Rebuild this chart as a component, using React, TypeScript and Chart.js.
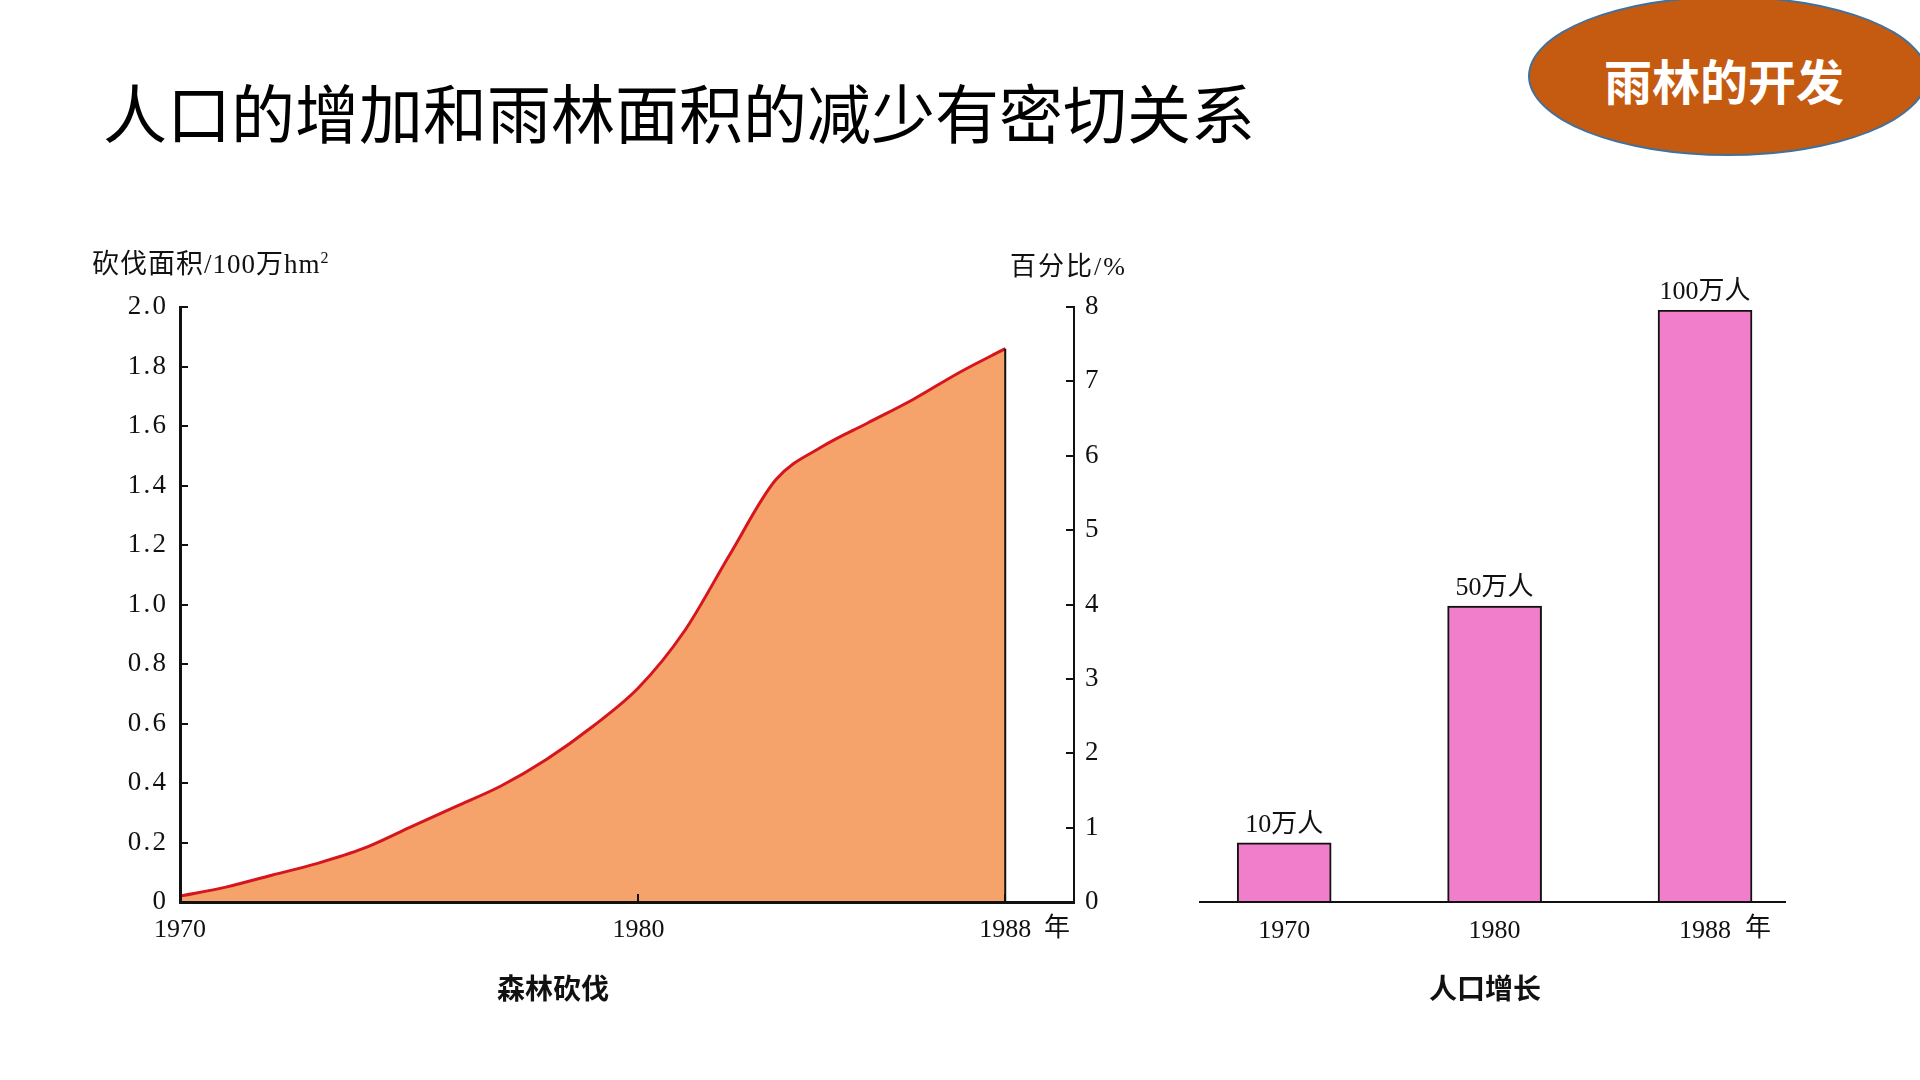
import React, { useEffect, useRef } from "react";
import { Chart, registerables } from "chart.js";

Chart.register(...registerables);

// Forest clearing (million hm²) by year
const clearingYears = [1970, 1971, 1972, 1973, 1974, 1975, 1976, 1977, 1978, 1979, 1980, 1981, 1982, 1983, 1984, 1985, 1986, 1987, 1988];
const clearingArea = [0.02, 0.05, 0.09, 0.13, 0.18, 0.25, 0.32, 0.39, 0.48, 0.59, 0.72, 0.91, 1.17, 1.42, 1.53, 1.61, 1.69, 1.78, 1.86];
const clearingXTicks = [1970, 1980, 1988];
const clearingLeftMax = 2.0;
const clearingRightMax = 8;

// Population (10k people)
const popCategories = ["1970", "1980", "1988"];
const popValues = [10, 50, 100];

const serif = '"Liberation Serif", "DejaVu Serif", serif';
const cjkSerif = '"Liberation Serif", "Noto Sans CJK SC", serif';
const cjkSans = '"Noto Sans CJK SC", "Noto Sans", sans-serif';

const ORANGE = "#F5A36A";
const RED = "#D5161F";
const PINK = "#F07ECB";

function ForestChart() {
  const ref = useRef<HTMLCanvasElement | null>(null);
  useEffect(() => {
    if (!ref.current) return;
    const lastIdx = clearingYears.length - 1;
    const chart = new Chart(ref.current, {
      type: "line",
      data: {
        datasets: [
          {
            label: "edge",
            data: [
              { x: clearingYears[lastIdx], y: 0 },
              { x: clearingYears[lastIdx], y: clearingArea[lastIdx] },
            ],
            borderColor: "#111",
            borderWidth: 2,
            pointRadius: 0,
            fill: false,
            order: 0,
            yAxisID: "y",
          },
          {
            label: "砍伐面积",
            data: clearingYears.map((yr, i) => ({ x: yr, y: clearingArea[i] })),
            borderColor: RED,
            borderWidth: 3,
            backgroundColor: ORANGE,
            fill: "origin",
            pointRadius: 0,
            cubicInterpolationMode: "monotone",
            order: 1,
            yAxisID: "y",
          },
        ],
      },
      options: {
        animation: false,
        responsive: false,
        events: [],
        layout: { padding: { left: 60, right: 26, top: 77, bottom: 78 } },
        plugins: { legend: { display: false }, tooltip: { enabled: false } },
        scales: {
          x: {
            type: "linear",
            min: 1970,
            max: 1989.5,
            afterBuildTicks: (s: any) => {
              s.ticks = clearingXTicks.map((v) => ({ value: v }));
            },
            afterFit: (s: any) => {
              s.height = 50;
            },
            grid: { drawOnChartArea: false, tickLength: -8, color: "#111", lineWidth: 2, z: 1 },
            border: { color: "#111", width: 3, z: 1 },
            ticks: {
              color: "#111",
              font: { family: serif, size: 26 },
              padding: 21,
              maxRotation: 0,
              autoSkip: false,
              callback: (v: any) => String(v),
            },
          },
          y: {
            position: "left",
            min: 0,
            max: clearingLeftMax,
            afterFit: (s: any) => {
              s.width = 60;
            },
            grid: { drawOnChartArea: false, tickLength: -8, color: "#111", lineWidth: 2, z: 1 },
            border: { color: "#111", width: 3, z: 1 },
            ticks: {
              stepSize: 0.2,
              color: "#111",
              font: { family: serif, size: 27 },
              padding: 22,
              callback: (v: any) => (v === 0 ? "0" : Number(v).toFixed(1).split("").join("\u200A")),
            },
          },
          y1: {
            position: "right",
            min: 0,
            max: clearingRightMax,
            afterFit: (s: any) => {
              s.width = 60;
            },
            grid: { drawOnChartArea: false, tickLength: -8, color: "#111", lineWidth: 2, z: 1 },
            border: { color: "#111", width: 2, z: 1 },
            ticks: {
              stepSize: 1,
              color: "#111",
              font: { family: serif, size: 27 },
              padding: 19,
            },
          },
        },
      } as any,
    });
    return () => chart.destroy();
  }, []);
  return (
    <canvas
      ref={ref}
      width={1100}
      height={800}
      style={{ position: "absolute", left: 60, top: 230, width: 1100, height: 800 }}
    />
  );
}

const barValueLabels = {
  id: "barValueLabels",
  afterDatasetsDraw(chart: any) {
    const meta = chart.getDatasetMeta(0);
    const ctx = chart.ctx;
    ctx.save();
    ctx.fillStyle = "#111";
    ctx.font = `26px ${cjkSerif}`;
    ctx.textAlign = "center";
    ctx.textBaseline = "bottom";
    meta.data.forEach((bar: any, i: number) => {
      ctx.fillText(`${popValues[i]}万人`, bar.x, bar.y - 5);
    });
    ctx.restore();
  },
};

function PopulationChart() {
  const ref = useRef<HTMLCanvasElement | null>(null);
  useEffect(() => {
    if (!ref.current) return;
    const chart = new Chart(ref.current, {
      type: "bar",
      data: {
        datasets: [
          {
            label: "人口",
            data: popValues.map((v, i) => ({ x: i, y: v })),
            backgroundColor: PINK,
            borderColor: "#111",
            borderWidth: 2,
            borderSkipped: "bottom",
            barThickness: 94,
          },
        ],
      },
      options: {
        animation: false,
        responsive: false,
        events: [],
        layout: { padding: { left: 40, right: 95, top: 80, bottom: 78 } },
        plugins: { legend: { display: false }, tooltip: { enabled: false } },
        scales: {
          x: {
            type: "linear",
            offset: false,
            min: -0.4,
            max: 2.38,
            afterBuildTicks: (s: any) => {
              s.ticks = popCategories.map((_, i) => ({ value: i }));
            },
            afterFit: (s: any) => {
              s.height = 50;
            },
            grid: { display: false },
            border: { color: "#111", width: 2, z: 1 },
            ticks: {
              color: "#111",
              font: { family: serif, size: 26 },
              padding: 6,
              maxRotation: 0,
              autoSkip: false,
              callback: (v: any) => popCategories[v] ?? "",
            },
          },
          y: {
            display: false,
            min: 0,
            max: 100,
          },
        },
      } as any,
      plugins: [barValueLabels],
    });
    return () => chart.destroy();
  }, []);
  return (
    <canvas
      ref={ref}
      width={720}
      height={800}
      style={{ position: "absolute", left: 1160, top: 230, width: 720, height: 800 }}
    />
  );
}

const txt = (extra: React.CSSProperties): React.CSSProperties => ({
  position: "absolute",
  whiteSpace: "nowrap",
  color: "#111",
  lineHeight: 1,
  ...extra,
});

export default function App() {
  useEffect(() => {
    document.body.style.margin = "0";
  }, []);
  return (
    <div
      style={{
        position: "fixed",
        left: 0,
        top: 0,
        width: 1920,
        height: 1080,
        background: "#ffffff",
        overflow: "hidden",
      }}
    >
      <div
        style={txt({
          left: 103,
          top: 78,
          fontFamily: cjkSans,
          fontSize: 64,
          color: "#000",
        })}
      >
        人口的增加和雨林面积的减少有密切关系
      </div>

      <div
        style={{
          position: "absolute",
          left: 1528,
          top: -4,
          width: 400,
          height: 160,
          borderRadius: "50%",
          background: "#C55A11",
          border: "2px solid #41719C",
          boxSizing: "border-box",
        }}
      />
      <div
        style={txt({
          left: 1604,
          top: 55,
          width: 240,
          textAlign: "center",
          fontFamily: cjkSans,
          fontWeight: 700,
          fontSize: 48,
          color: "#fff",
        })}
      >
        雨林的开发
      </div>

      <ForestChart />
      <PopulationChart />

      <div style={txt({ left: 92, top: 250, fontFamily: cjkSerif, fontSize: 27, letterSpacing: 1 })}>
        砍伐面积/100万hm<sup style={{ fontSize: 16, verticalAlign: "10px" }}>2</sup>
      </div>
      <div style={txt({ left: 1010, top: 254, fontFamily: cjkSerif, fontSize: 26, letterSpacing: 2 })}>
        百分比/%
      </div>
      <div style={txt({ left: 1044, top: 915, fontFamily: cjkSerif, fontSize: 26 })}>年</div>
      <div style={txt({ left: 1745, top: 915, fontFamily: cjkSerif, fontSize: 26 })}>年</div>

      <div
        style={txt({
          left: 453,
          top: 973,
          width: 200,
          textAlign: "center",
          fontFamily: cjkSans,
          fontWeight: 700,
          fontSize: 28,
        })}
      >
        森林砍伐
      </div>
      <div
        style={txt({
          left: 1385,
          top: 973,
          width: 200,
          textAlign: "center",
          fontFamily: cjkSans,
          fontWeight: 700,
          fontSize: 28,
        })}
      >
        人口增长
      </div>
    </div>
  );
}
